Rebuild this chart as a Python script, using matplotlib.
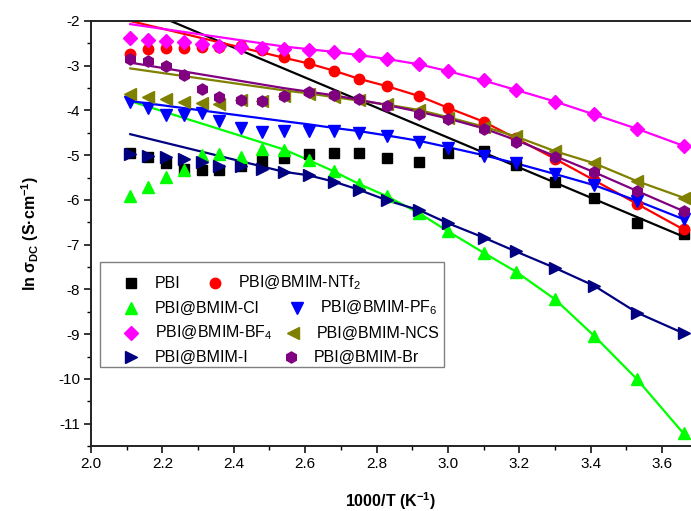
import matplotlib
matplotlib.use("Agg")
import matplotlib.pyplot as plt
from matplotlib.lines import Line2D
from matplotlib.patches import Rectangle
from matplotlib.ticker import MultipleLocator

plt.rcParams["font.family"] = "Liberation Sans"
plt.rcParams["mathtext.fontset"] = "custom"
plt.rcParams["mathtext.rm"] = "Liberation Sans"
plt.rcParams["mathtext.it"] = "Liberation Sans:italic"
plt.rcParams["mathtext.bf"] = "Liberation Sans:bold"

# ---- data --------------------------------------------------------------------
inv_t = [2.11, 2.16, 2.21, 2.26, 2.31, 2.36, 2.42, 2.48, 2.54, 2.61, 2.68,
         2.75, 2.83, 2.92, 3.00, 3.10, 3.19, 3.30, 3.41, 3.53, 3.66]

pbi  = [-4.96, -5.04, -5.18, -5.30, -5.34, -5.34, -5.24, -5.12, -5.07, -4.98, -4.96,
        -4.96, -5.06, -5.15, -4.95, -4.90, -5.22, -5.60, -5.96, -6.51, -6.76]
ntf2 = [-2.73, -2.63, -2.61, -2.60, -2.58, -2.58, -2.56, -2.65, -2.80, -2.94, -3.11,
        -3.29, -3.46, -3.68, -3.94, -4.25, -4.62, -5.08, -5.56, -6.09, -6.66]
cl   = [-5.91, -5.70, -5.49, -5.32, -5.00, -4.98, -5.04, -4.87, -4.89, -5.11, -5.36,
        -5.64, -5.92, -6.30, -6.70, -7.18, -7.60, -8.22, -9.04, -10.01, -11.22]
pf6  = [-3.80, -3.94, -4.10, -4.11, -4.06, -4.23, -4.40, -4.48, -4.45, -4.46, -4.45,
        -4.50, -4.57, -4.70, -4.83, -5.01, -5.18, -5.42, -5.67, -6.02, -6.43]
bf4  = [-2.38, -2.42, -2.45, -2.48, -2.52, -2.56, -2.58, -2.60, -2.62, -2.65, -2.70,
        -2.76, -2.85, -2.97, -3.12, -3.33, -3.54, -3.80, -4.09, -4.41, -4.79]
ncs  = [-3.64, -3.70, -3.75, -3.81, -3.84, -3.86, -3.76, -3.78, -3.68, -3.63, -3.70,
        -3.76, -3.85, -3.98, -4.16, -4.36, -4.58, -4.91, -5.18, -5.58, -5.95]
iod  = [-4.98, -5.02, -5.04, -5.09, -5.15, -5.25, -5.24, -5.31, -5.37, -5.45, -5.59,
        -5.77, -6.01, -6.23, -6.52, -6.84, -7.15, -7.52, -7.92, -8.52, -8.98]
br   = [-2.85, -2.89, -3.00, -3.20, -3.52, -3.69, -3.76, -3.78, -3.68, -3.59, -3.66,
        -3.75, -3.91, -4.09, -4.20, -4.42, -4.70, -5.04, -5.38, -5.80, -6.25]

# fitted curves (at these abscissae)
fit_x = [2.11, 2.54, 2.61, 2.68, 2.75, 2.83, 2.92, 3.00, 3.10, 3.19, 3.30, 3.41, 3.53, 3.66]
ntf2_fit = [-2.00, -2.82, -2.95, -3.11, -3.29, -3.46, -3.68, -3.94, -4.25, -4.62, -5.08, -5.56, -6.09, -6.66]
cl_fit   = [-3.79, -4.87, -5.11, -5.36, -5.64, -5.92, -6.30, -6.70, -7.18, -7.60, -8.22, -9.04, -10.01, -11.22]
pf6_fit  = [-3.79, -4.24, -4.31, -4.39, -4.46, -4.56, -4.68, -4.82, -5.00, -5.18, -5.42, -5.67, -6.02, -6.43]
bf4_fit  = [-2.07, -2.57, -2.63, -2.69, -2.76, -2.85, -2.97, -3.12, -3.33, -3.54, -3.80, -4.09, -4.41, -4.79]
ncs_fit  = [-3.06, -3.55, -3.62, -3.70, -3.78, -3.87, -3.99, -4.15, -4.36, -4.58, -4.91, -5.18, -5.58, -5.95]
iod_fit  = [-4.53, -5.37, -5.45, -5.59, -5.77, -6.01, -6.23, -6.52, -6.84, -7.15, -7.52, -7.92, -8.52, -8.98]
br_fit   = [-2.93, -3.50, -3.58, -3.66, -3.76, -3.88, -4.03, -4.18, -4.40, -4.66, -5.02, -5.38, -5.80, -6.25]
pbi_fit_x = [2.11, 3.66]
pbi_fit   = [-1.62, -6.82]

labels = ["PBI", "PBI@BMIM-NTf$_2$", "PBI@BMIM-Cl", "PBI@BMIM-PF$_6$",
          "PBI@BMIM-BF$_4$", "PBI@BMIM-NCS", "PBI@BMIM-I", "PBI@BMIM-Br"]

# ---- style -------------------------------------------------------------------
COLORS  = ["#000000", "#ff0000", "#00ff00", "#0000ff",
           "#ff00ff", "#808000", "#000080", "#800080"]
MARKERS = ["s", "o", "^", "v", "D", "<", ">", "h"]
SIZES   = [6.5, 7.5, 8.0, 8.0, 6.8, 8.0, 8.0, 8.0]

W, H = 691, 511
fig = plt.figure(figsize=(W / 100, H / 100), dpi=100)
ax = fig.add_axes([91 / W, 1 - 446 / H, 600 / W, 425 / H])

series = [pbi, ntf2, cl, pf6, bf4, ncs, iod, br]
fits = [(pbi_fit_x, pbi_fit), (fit_x, ntf2_fit), (fit_x, cl_fit), (fit_x, pf6_fit),
        (fit_x, bf4_fit), (fit_x, ncs_fit), (fit_x, iod_fit), (fit_x, br_fit)]

for (fx_, fy_), c in zip(fits, COLORS):
    ax.plot(fx_, fy_, color=c, lw=1.6, zorder=2)
for ys, c, m, s in zip(series, COLORS, MARKERS, SIZES):
    ax.plot(inv_t, ys, ls="none", marker=m, ms=s, color=c, mec=c, zorder=3)

ax.set_xlim(2.0, 3.681)
ax.set_ylim(-11.5, -2.0)
ax.xaxis.set_major_locator(MultipleLocator(0.2))
ax.xaxis.set_minor_locator(MultipleLocator(0.1))
ax.yaxis.set_major_locator(MultipleLocator(1))
ax.yaxis.set_minor_locator(MultipleLocator(0.5))
ax.xaxis.set_major_formatter(plt.FuncFormatter(lambda v, p: f"{v:.1f}"))
ax.yaxis.set_major_formatter(plt.FuncFormatter(lambda v, p: f"{v:.0f}"))
ax.tick_params(which="major", direction="out", length=5, width=1.1, labelsize=11, pad=3)
ax.tick_params(which="minor", direction="out", length=3, width=1.0)
ax.tick_params(top=False, right=False)
for sp in ["left", "bottom", "top"]:
    ax.spines[sp].set_linewidth(1.4)
    ax.spines[sp].set_color("#222222")
ax.spines["right"].set_visible(False)

ax.set_xlabel("1000/T (K$^{\\mathbf{-1}}$)", fontsize=11.5, fontweight="bold", labelpad=14)
ax.set_ylabel("ln σ$_{\\mathbf{DC}}$ (S·cm$^{\\mathbf{-1}}$)", fontsize=11.5,
              fontweight="bold", labelpad=12)

# ---- legend (Origin style: each row laid out on its own) ----------------------
def fx(px):
    return px / W

def fy(py):
    return 1 - py / H

fig.add_artist(Rectangle((fx(100), fy(367)), fx(444) - fx(100), fy(262) - fy(367),
                         transform=fig.transFigure, facecolor="white",
                         edgecolor="#808080", lw=1.0, zorder=5))
rows = [283, 308, 333, 357]
entry_pos = [(131, 155, 0), (215, 238, 0), (131, 155, 1), (297, 320, 1),
             (131, 155, 2), (293, 317, 2), (131, 155, 3), (291, 314, 3)]
for (mx, tx, r), lab, c, m, s in zip(entry_pos, labels, COLORS, MARKERS, SIZES):
    fig.add_artist(Line2D([fx(mx)], [fy(rows[r])], transform=fig.transFigure,
                          marker=m, ms=s, color=c, mec=c, ls="none", zorder=6))
    fig.text(fx(tx), fy(rows[r]), lab, ha="left", va="center", fontsize=11.5,
             color="black", zorder=6)

fig.savefig("out.png", dpi=100)
